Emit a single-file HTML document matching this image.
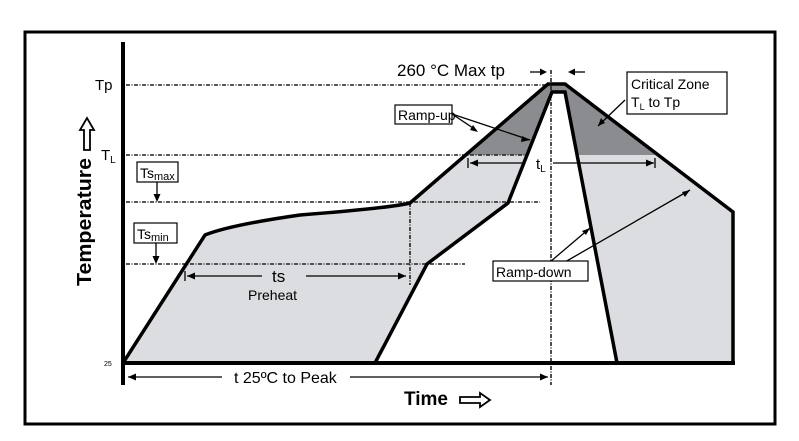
<!DOCTYPE html>
<html><head><meta charset="utf-8"><style>body{margin:0;background:#fff}svg{display:block}</style></head><body>
<svg width="799" height="441" viewBox="0 0 799 441" xmlns="http://www.w3.org/2000/svg" font-family="Liberation Sans, Arial, sans-serif">
<rect x="0" y="0" width="799" height="441" fill="#fff"/>
<rect x="25" y="32" width="750" height="392" fill="#fff" stroke="#000" stroke-width="3"/>
<path d="M123,363 L205,235 Q230,225 300,215 Q390,208 410,203 L548,84 L565,84 L733,212 L733,363 L617,363 L565,92 L552,92 L508,203 L427,264 L375,363 Z" fill="#dcdde0"/>
<path d="M466,155 L548,84 L565,84 L658,155 L577,155 L565,92 L552,92 L527,155 Z" fill="#8a8c90"/>
<g stroke="#222" stroke-width="1.6" stroke-dasharray="4,1.5,1,1.5" fill="none">
<line x1="126" y1="85" x2="548" y2="85"/>
<line x1="126" y1="155" x2="528" y2="155"/>
<line x1="126" y1="202" x2="540" y2="202"/>
<line x1="126" y1="264" x2="465" y2="264"/>
<line x1="551" y1="70" x2="551" y2="385"/>
<line x1="410" y1="203" x2="410" y2="285"/>
</g>
<g stroke="#000" stroke-width="3.5" fill="none" stroke-linejoin="miter">
<path d="M123,363 L205,235 Q230,225 300,215 Q390,208 410,203 L548,84 L565,84 L733,212 L733,363"/>
<path d="M375,363 L427,264 L508,203 L552,92 L565,92 L617,363"/>
</g>
<line x1="123" y1="42" x2="123" y2="385" stroke="#000" stroke-width="4"/>
<line x1="121" y1="363" x2="735" y2="363" stroke="#000" stroke-width="4"/>
<g stroke="#000" stroke-width="1.3" fill="none">
<line x1="128" y1="377" x2="222" y2="377"/><line x1="350" y1="377" x2="548" y2="377"/>
<line x1="187" y1="276" x2="262" y2="276"/><line x1="306" y1="276" x2="406" y2="276"/>
<line x1="470" y1="163" x2="525" y2="163"/><line x1="553" y1="163" x2="654" y2="163"/>
<line x1="468" y1="158" x2="468" y2="168"/><line x1="655" y1="158" x2="655" y2="168"/>
<line x1="185" y1="271" x2="185" y2="281"/>
<line x1="157" y1="182" x2="157" y2="199"/>
<line x1="156" y1="243" x2="156" y2="261"/>
<line x1="530" y1="72" x2="545" y2="72"/><line x1="585" y1="72" x2="570" y2="72"/>
<line x1="452" y1="114" x2="476" y2="130"/><line x1="452" y1="114" x2="530" y2="140"/>
<line x1="625" y1="100" x2="598" y2="126"/>
<line x1="550" y1="262" x2="590" y2="228"/><line x1="565" y1="262" x2="690" y2="190"/>
</g>
<g fill="#000">
<path d="M128,377 l8,-3.5 v7z"/><path d="M548,377 l-8,-3.5 v7z"/>
<path d="M187,276 l8,-3.5 v7z"/><path d="M406,276 l-8,-3.5 v7z"/>
<path d="M470,163 l8,-3.5 v7z"/><path d="M654,163 l-8,-3.5 v7z"/>
<path d="M157,202 l-3.5,-8 h7z"/><path d="M156,264 l-3.5,-8 h7z"/>
<path d="M547,72 l-7,-3.5 v7z"/><path d="M568,72 l7,-3.5 v7z"/>
<path d="M530,140 l-8,-4 l-1,6z"/><path d="M478,132 l-8,-2 l3,-5z"/><path d="M598,126 l3,-8 l4,5z"/>
<path d="M590,228 l-4,7 l-4,-4z"/><path d="M690,190 l-5,7 l-3,-5z"/>
</g>
<g fill="#fff" stroke="#000" stroke-width="1.2">
<rect x="137" y="162" width="41" height="20"/>
<rect x="134" y="223" width="43" height="20"/>
<rect x="395" y="105" width="57" height="19"/>
<rect x="493" y="261" width="95" height="20"/>
<rect x="627" y="72" width="100" height="42"/>
</g>
<g font-size="14" fill="#000">
<text x="140" y="178">Ts<tspan font-size="11" dy="2">max</tspan></text>
<text x="137" y="239">Ts<tspan font-size="11" dy="2">min</tspan></text>
<text x="398" y="120">Ramp-up</text>
<text x="496" y="277">Ramp-down</text>
<text x="631" y="89">Critical Zone</text>
<text x="631" y="107">T<tspan font-size="9" dy="3">L</tspan><tspan dy="-3"> to Tp</tspan></text>
<text x="95" y="90" font-size="15">Tp</text>
<text x="101" y="160" font-size="15">T<tspan font-size="10" dy="3">L</tspan></text>
<text x="104" y="366" font-size="7">25</text>
<text x="272" y="282" font-size="17">ts</text>
<text x="248" y="300" font-size="14">Preheat</text>
<text x="536" y="169" font-size="15">t<tspan font-size="10" dy="3">L</tspan></text>
<text x="234" y="383" font-size="16">t  25ºC to Peak</text>
<text x="397" y="76" font-size="17">260 °C Max  tp</text>
</g>
<text x="404" y="405" font-size="19" font-weight="bold">Time</text>
<path d="M460,397 h20 v-4 l10,7 l-10,7 v-4 h-20z" fill="#fff" stroke="#000" stroke-width="1.8"/>
<text transform="translate(91,286) rotate(-90)" font-size="20" font-weight="bold" textLength="128" lengthAdjust="spacingAndGlyphs">Temperature</text>
<path d="M84,150 v-20 h-4 l7,-12 l7,12 h-4 v20z" fill="#fff" stroke="#000" stroke-width="1.8"/>
</svg>
</body></html>
